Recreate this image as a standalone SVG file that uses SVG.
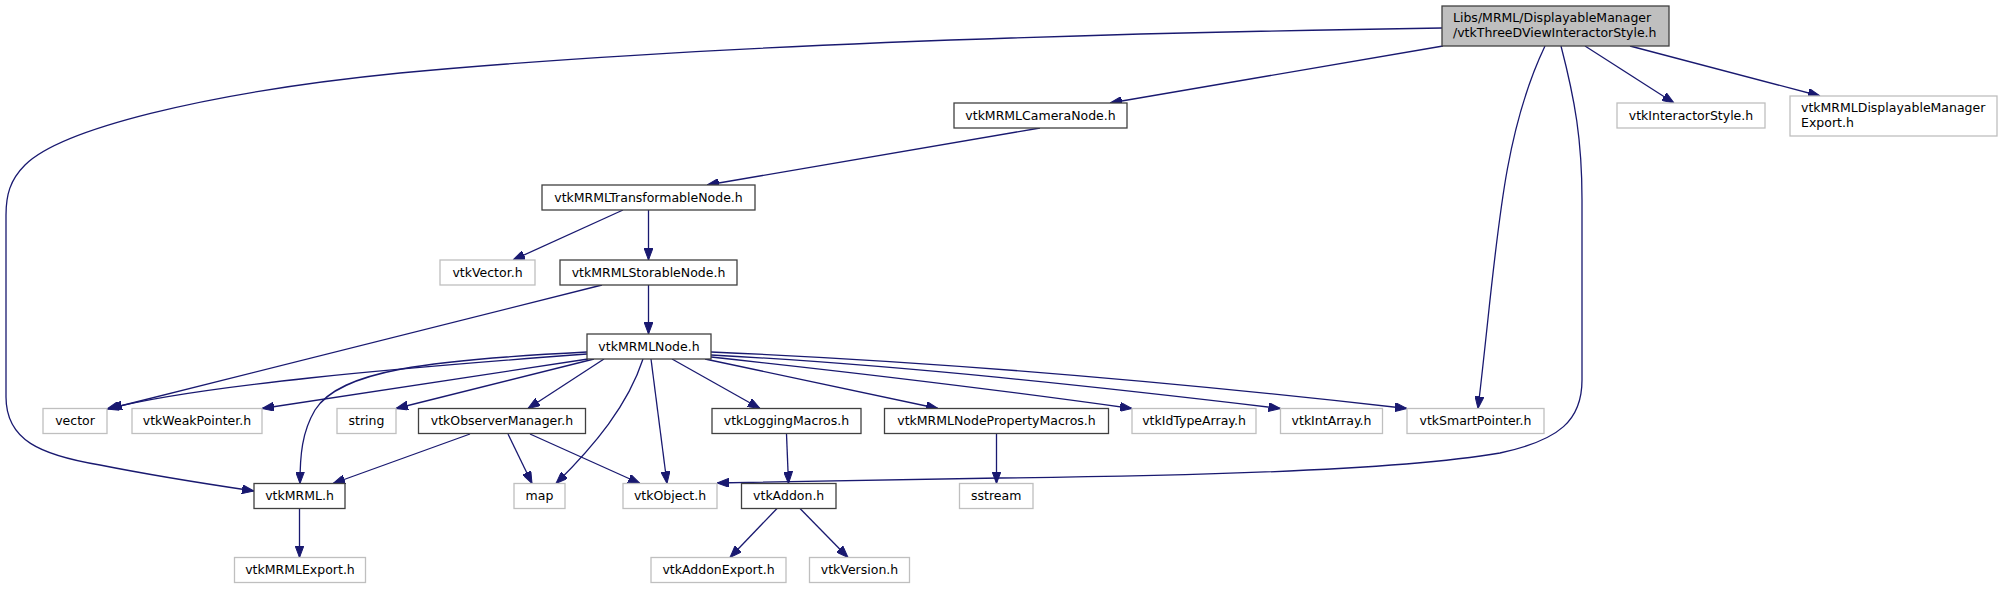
<svg xmlns="http://www.w3.org/2000/svg" width="2003" height="589" viewBox="0 0 2003 589">
<style>
rect{stroke-width:1.3}
.d rect{fill:#fff;stroke:#404040}
.u rect{fill:#fff;stroke:#bfbfbf}
.r rect{fill:#bfbfbf;stroke:#404040}
text{font-family:"DejaVu Sans","Liberation Sans",sans-serif;font-size:12.5px;fill:#000}
.c{text-anchor:middle}
#edges path{fill:none;stroke:#191970;stroke-width:1.3;marker-end:url(#ah)}
</style>
<defs>
<marker id="ah" markerWidth="12" markerHeight="9" refX="12" refY="4.5" orient="auto" markerUnits="userSpaceOnUse">
<polygon points="0,0 12,4.5 0,9" fill="#191970" stroke="#191970" stroke-width="1"/>
</marker>
</defs>
<rect width="2003" height="589" fill="#fff"/>
<g id="edges">
<path d="M1442,28 C1100,33 700,45 400,73 C200,93 60,130 25,165 C10,180 6,195 6,215 L6,397 C6,440 40,455 100,465 C150,475 200,483 254,491"/>
<path d="M1443,46 L1110,103"/>
<path d="M1545,46 C1500,140 1497,250 1478,408.5"/>
<path d="M1561,46 C1575,100 1582,140 1582,200 L1582,380 C1582,420 1560,440 1500,453 C1400,470 1200,476 1000,478 L717,483"/>
<path d="M1585,46 L1674,103"/>
<path d="M1630,46 L1820,96"/>
<path d="M1040,128 L707,185"/>
<path d="M623,210 L513,260"/>
<path d="M648.5,210 L648.5,260"/>
<path d="M602,285 L110,408.5"/>
<path d="M648.5,285 L648.5,334"/>
<path d="M587,354 C400,368 200,385 107,409"/>
<path d="M588,359 L262,408.5"/>
<path d="M587,352 C430,360 340,370 315,410 C302,432 300,455 300,483.5"/>
<path d="M594,359 L396,408.5"/>
<path d="M604,359 L528,408.5"/>
<path d="M643,359 C628,405 595,445 556,483.5"/>
<path d="M651,359 L667,483.5"/>
<path d="M672,359 L760,408.5"/>
<path d="M705,359 L938,408.5"/>
<path d="M711,357 C850,372 1000,390 1132,408.5"/>
<path d="M711,355 C900,365 1100,387 1280.5,408.5"/>
<path d="M711,352 C950,362 1200,385 1407,408.5"/>
<path d="M470,434 L333,483.5"/>
<path d="M508,434 L532,483.5"/>
<path d="M530,434 L640,483.5"/>
<path d="M786.5,434 L788.5,483.5"/>
<path d="M996.5,434 L996.5,483.5"/>
<path d="M299.5,509 L299.5,557.5"/>
<path d="M777,508.5 L730,557.5"/>
<path d="M800,508.5 L848,557.5"/>
</g>
<g id="root" class="r"><rect x="1442" y="6" width="227" height="40"/><text x="1453" y="21.8">Libs/MRML/DisplayableManager</text><text x="1453" y="36.8">/vtkThreeDViewInteractorStyle.h</text></g>
<g id="camera" class="d"><rect x="954" y="103" width="173" height="25"/><text class="c" x="1040.5" y="119.8">vtkMRMLCameraNode.h</text></g>
<g id="istyle" class="u"><rect x="1617" y="103" width="148" height="25"/><text class="c" x="1691" y="119.8">vtkInteractorStyle.h</text></g>
<g id="dmexport" class="u"><rect x="1790" y="96" width="207" height="40"/><text x="1801" y="111.6">vtkMRMLDisplayableManager</text><text x="1801" y="126.6">Export.h</text></g>
<g id="transformable" class="d"><rect x="542" y="185" width="213" height="25"/><text class="c" x="648.5" y="201.8">vtkMRMLTransformableNode.h</text></g>
<g id="vtkvector" class="u"><rect x="440" y="260" width="95" height="25"/><text class="c" x="487.5" y="276.8">vtkVector.h</text></g>
<g id="storable" class="d"><rect x="560" y="260" width="177" height="25"/><text class="c" x="648.5" y="276.8">vtkMRMLStorableNode.h</text></g>
<g id="mrmlnode" class="d"><rect x="587" y="334" width="124" height="25"/><text class="c" x="649" y="350.8">vtkMRMLNode.h</text></g>
<g id="vector" class="u"><rect x="43" y="408.5" width="64" height="25"/><text class="c" x="75" y="425.3">vector</text></g>
<g id="weakptr" class="u"><rect x="132" y="408.5" width="130" height="25"/><text class="c" x="197" y="425.3">vtkWeakPointer.h</text></g>
<g id="string" class="u"><rect x="337" y="408.5" width="59" height="25"/><text class="c" x="366.5" y="425.3">string</text></g>
<g id="obsmgr" class="d"><rect x="418.5" y="408.5" width="167" height="25"/><text class="c" x="502" y="425.3">vtkObserverManager.h</text></g>
<g id="logging" class="d"><rect x="712" y="408.5" width="149" height="25"/><text class="c" x="786.5" y="425.3">vtkLoggingMacros.h</text></g>
<g id="propmacros" class="d"><rect x="884.5" y="408.5" width="224" height="25"/><text class="c" x="996.5" y="425.3">vtkMRMLNodePropertyMacros.h</text></g>
<g id="idtype" class="u"><rect x="1132" y="408.5" width="124" height="25"/><text class="c" x="1194" y="425.3">vtkIdTypeArray.h</text></g>
<g id="intarray" class="u"><rect x="1280.5" y="408.5" width="102" height="25"/><text class="c" x="1331.5" y="425.3">vtkIntArray.h</text></g>
<g id="smartptr" class="u"><rect x="1407" y="408.5" width="137" height="25"/><text class="c" x="1475.5" y="425.3">vtkSmartPointer.h</text></g>
<g id="vtkmrml" class="d"><rect x="254" y="483.5" width="91" height="25"/><text class="c" x="299.5" y="500.3">vtkMRML.h</text></g>
<g id="map" class="u"><rect x="514" y="483.5" width="51" height="25"/><text class="c" x="539.5" y="500.3">map</text></g>
<g id="vtkobject" class="u"><rect x="623" y="483.5" width="94" height="25"/><text class="c" x="670" y="500.3">vtkObject.h</text></g>
<g id="vtkaddon" class="d"><rect x="741.5" y="483.5" width="94.5" height="25"/><text class="c" x="788.7" y="500.3">vtkAddon.h</text></g>
<g id="sstream" class="u"><rect x="959.5" y="483.5" width="73.5" height="25"/><text class="c" x="996.2" y="500.3">sstream</text></g>
<g id="mrmlexport" class="u"><rect x="234.5" y="557.5" width="131" height="25"/><text class="c" x="300" y="574.3">vtkMRMLExport.h</text></g>
<g id="addonexport" class="u"><rect x="651" y="557.5" width="135" height="25"/><text class="c" x="718.5" y="574.3">vtkAddonExport.h</text></g>
<g id="version" class="u"><rect x="809.5" y="557.5" width="100" height="25"/><text class="c" x="859.5" y="574.3">vtkVersion.h</text></g>
</svg>
